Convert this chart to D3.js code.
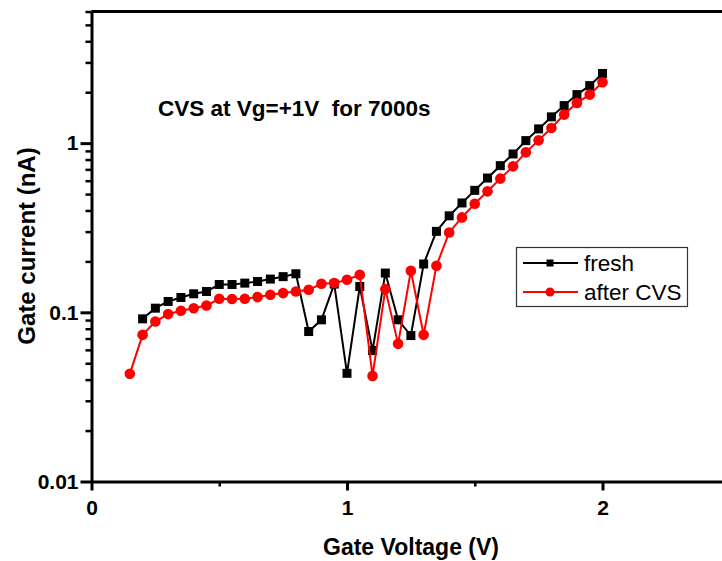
<!DOCTYPE html>
<html>
<head>
<meta charset="utf-8">
<script src="https://cdn.jsdelivr.net/npm/d3@7"></script>
<style>
  body { margin: 0; background: #fff; }
  svg { display: block; font-family: "Liberation Sans", Arial, sans-serif; }
  .axis path, .axis line { stroke: #000; }
  .axis text { font-weight: bold; font-size: 21px; fill: #000; font-family: "Liberation Sans", Arial, sans-serif; }
</style>
</head>
<body>
<div id="chart"></div>
<script>

// Fresh device: gate voltage (V) and gate current (nA)
const voltFresh = [0.20, 0.25, 0.30, 0.35, 0.40, 0.45, 0.50, 0.55, 0.60, 0.65,
                   0.70, 0.75, 0.80, 0.85, 0.90, 0.95, 1.00, 1.05, 1.10, 1.15,
                   1.20, 1.25, 1.30, 1.35, 1.40, 1.45, 1.50, 1.55, 1.60, 1.65,
                   1.70, 1.75, 1.80, 1.85, 1.90, 1.95, 2.00];
const currentFresh = [0.0915, 0.1058, 0.1159, 0.1224, 0.1287, 0.1328, 0.1460, 0.1460, 0.1488, 0.1521,
                      0.1572, 0.1625, 0.1690, 0.0770, 0.0903, 0.1469, 0.0436, 0.1421, 0.0594, 0.1706,
                      0.0903, 0.0729, 0.193, 0.301, 0.372, 0.443, 0.526, 0.622, 0.736, 0.863,
                      1.035, 1.214, 1.43, 1.667, 1.936, 2.188, 2.58];

// After constant voltage stress
const voltCVS = [0.15, 0.20, 0.25, 0.30, 0.35, 0.40, 0.45, 0.50, 0.55, 0.60,
                 0.65, 0.70, 0.75, 0.80, 0.85, 0.90, 0.95, 1.00, 1.05, 1.10,
                 1.15, 1.20, 1.25, 1.30, 1.35, 1.40, 1.45, 1.50, 1.55, 1.60,
                 1.65, 1.70, 1.75, 1.80, 1.85, 1.90, 1.95, 2.00];
const currentCVS = [0.0433, 0.0736, 0.0882, 0.0976, 0.1021, 0.1058, 0.1097, 0.1202, 0.1198, 0.1202,
                    0.1230, 0.1269, 0.1299, 0.1328, 0.1359, 0.1474, 0.1488, 0.1557, 0.1667, 0.0421,
                    0.1371, 0.0651, 0.1760, 0.0736, 0.1885, 0.2966, 0.364, 0.438, 0.519, 0.617,
                    0.729, 0.882, 1.039, 1.230, 1.475, 1.729, 1.936, 2.29];

// Tick values and labels
const xTicks = [0, 1, 2];
const xTickLabels = ["0", "1", "2"];
const xMinorTicks = [0.5, 1.5, 2.5];
const yTicks = [0.01, 0.1, 1];
const yTickLabels = ["0.01", "0.1", "1"];
const yMinorTicks = [0.02, 0.03, 0.04, 0.05, 0.06, 0.07, 0.08, 0.09,
                     0.2, 0.3, 0.4, 0.5, 0.6, 0.7, 0.8, 0.9,
                     2, 3, 4, 5, 6];

const seriesNames = ["fresh", "after CVS"];
const seriesColors = ["#000000", "#ff0000"];

// Chart size and margin variables
let chart = {};
chart.width = 722;
chart.height = 561;
chart.margin = {top: 11.5, left: 91.5};
chart.xwidth = 638.75;
chart.yheight = 470;

let svg = d3.select("#chart")
    .append("svg")
        .attr("width", chart.width)
        .attr("height", chart.height)
    .append("g")
        .attr("transform", "translate(" + chart.margin.left + "," + chart.margin.top + ")");

// Set the ranges
let x = d3.scaleLinear().domain([0, 2.5]).range([0, chart.xwidth]);
let y = d3.scaleLog().domain([0.01, 6]).range([chart.yheight, 0]);

// Define the axes
let xAxis = d3.axisBottom(x).tickValues(xTicks)
    .tickFormat((d, i) => xTickLabels[i])
    .tickSize(9).tickSizeOuter(0).tickPadding(10);
let xMinor = d3.axisBottom(x).tickValues(xMinorTicks)
    .tickFormat("").tickSize(5).tickSizeOuter(0);
let yAxis = d3.axisLeft(y).tickValues(yTicks)
    .tickFormat((d, i) => yTickLabels[i])
    .tickSize(11).tickSizeOuter(0).tickPadding(2);
let yMinor = d3.axisLeft(y).tickValues(yMinorTicks)
    .tickFormat("").tickSize(6).tickSizeOuter(0);

// Top frame line
svg.append("line")
    .attr("x1", 0).attr("x2", chart.xwidth)
    .attr("y1", 0).attr("y2", 0)
    .attr("stroke", "#000").attr("stroke-width", 3);

// Add the minor ticks
svg.append("g")
    .attr("class", "axis")
    .attr("transform", "translate(0," + chart.yheight + ")")
    .call(xMinor)
    .call(g => g.select(".domain").remove())
    .selectAll("line").attr("stroke-width", 2.5);
svg.append("g")
    .attr("class", "axis")
    .call(yMinor)
    .call(g => g.select(".domain").remove())
    .selectAll("line").attr("stroke-width", 2.5);

// Add the X Axis
let gx = svg.append("g")
    .attr("class", "x axis")
    .attr("transform", "translate(0," + chart.yheight + ")")
    .call(xAxis);
gx.select(".domain").attr("stroke-width", 3);
gx.selectAll(".tick line").attr("stroke-width", 3);

// Add the Y Axis
let gy = svg.append("g")
    .attr("class", "y axis")
    .call(yAxis);
gy.select(".domain").attr("stroke-width", 3);
gy.selectAll(".tick line").attr("stroke-width", 3);

// Define the line
let valueline = d3.line()
    .x(d => x(d[0]))
    .y(d => y(d[1]));

let freshData = d3.zip(voltFresh, currentFresh);
let cvsData = d3.zip(voltCVS, currentCVS);

// Fresh series: line and square markers
svg.append("path")
    .attr("d", valueline(freshData))
    .attr("fill", "none")
    .attr("stroke", seriesColors[0])
    .attr("stroke-width", 2);
svg.append("g")
    .selectAll("rect")
    .data(freshData)
    .enter()
    .append("rect")
        .attr("x", d => x(d[0]) - 4.5)
        .attr("y", d => y(d[1]) - 4.5)
        .attr("width", 9)
        .attr("height", 9)
        .attr("fill", seriesColors[0]);

// After CVS series: line and circle markers
svg.append("path")
    .attr("d", valueline(cvsData))
    .attr("fill", "none")
    .attr("stroke", seriesColors[1])
    .attr("stroke-width", 2);
svg.append("g")
    .selectAll("circle")
    .data(cvsData)
    .enter()
    .append("circle")
        .attr("r", 5.3)
        .attr("cx", d => x(d[0]))
        .attr("cy", d => y(d[1]))
        .attr("fill", seriesColors[1]);

// Annotation
svg.append("text")
    .attr("x", 158 - chart.margin.left)
    .attr("y", 116 - chart.margin.top)
    .attr("font-size", "22.5px")
    .attr("font-weight", "bold")
    .attr("xml:space", "preserve")
    .style("white-space", "pre")
    .text("CVS at Vg=+1V  for 7000s");

// Axis titles
let root = d3.select("#chart svg");
root.append("text")
    .attr("x", 411)
    .attr("y", 555)
    .attr("text-anchor", "middle")
    .attr("font-size", "23px")
    .attr("font-weight", "bold")
    .text("Gate Voltage (V)");
root.append("text")
    .attr("transform", "translate(35,246) rotate(-90)")
    .attr("text-anchor", "middle")
    .attr("font-size", "24px")
    .attr("font-weight", "bold")
    .text("Gate current (nA)");

// Legend
let legend = root.append("g").attr("class", "legend");
legend.append("rect")
    .attr("x", 516.5).attr("y", 247.5)
    .attr("width", 171).attr("height", 59)
    .attr("fill", "#fff")
    .attr("stroke", "#333")
    .attr("stroke-width", 1.2);

let rows = legend.selectAll("g.row")
    .data(seriesNames)
    .enter()
    .append("g")
        .attr("class", "row")
        .attr("transform", (d, i) => "translate(0," + (263 + i * 29) + ")");
rows.append("line")
    .attr("x1", 523).attr("x2", 578)
    .attr("y1", 0).attr("y2", 0)
    .attr("stroke", (d, i) => seriesColors[i])
    .attr("stroke-width", 2);
rows.filter((d, i) => i === 0).append("rect")
    .attr("x", 546.5).attr("y", -3.5)
    .attr("width", 7).attr("height", 7)
    .attr("fill", seriesColors[0]);
rows.filter((d, i) => i === 1).append("circle")
    .attr("cx", 550).attr("cy", 0).attr("r", 4.5)
    .attr("fill", seriesColors[1]);
rows.append("text")
    .attr("x", 584)
    .attr("y", 0)
    .attr("dy", "0.35em")
    .attr("font-size", "22.5px")
    .text(d => d);

</script>
</body>
</html>
